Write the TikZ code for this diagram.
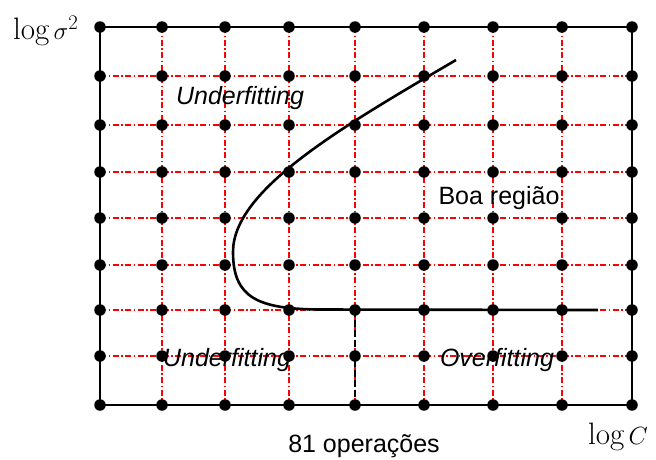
\documentclass[tikz,border=0pt]{standalone}
\usepackage{fontspec}
\newfontfamily\arialf{Liberation Sans}
\begin{document}
\begin{tikzpicture}[x=1pt,y=-1pt,
  gridline/.style={red, line width=1.1pt, dash pattern=on 6pt off 2.5pt on 1.5pt off 2.5pt},
  frame/.style={black, line width=2.7pt, line join=round},
  curveline/.style={black, line width=2.6pt},
  cutline/.style={black, line width=2.8pt, dash pattern=on 7pt off 3pt},
  dot/.style={circle, fill=black, inner sep=0pt, minimum size=11.5pt},
  lbl/.style={font=\arialf\fontsize{25}{30}\selectfont, inner sep=0pt, anchor=base},
  ilbl/.style={lbl, font=\arialf\itshape\fontsize{25}{30}\selectfont},
  mlbl/.style={font=\fontsize{31}{36}\selectfont, inner sep=0pt, anchor=base west}]
\useasboundingbox (0,0) rectangle (656,459);
\foreach \x [count=\i] in {100,162,225,289,355,424,493,562,632}
  \foreach \y [count=\j] in {27,76,125,172,218,265,310,356,405}
    \coordinate (p-\i-\j) at (\x,\y);
% red dash-dot grid
\foreach \i in {2,...,8} \draw[gridline] (p-\i-1) -- (p-\i-9);
\foreach \j in {2,...,8} \draw[gridline] (p-1-\j) -- (p-9-\j);
% frame
\draw[frame] (p-1-1) rectangle (p-9-9);
% boundary curve
\coordinate (cs) at (456,60);
\coordinate (cm) at (233,252);
\coordinate (ck) at (320,309.5);
\coordinate (ce) at (598,310);
\draw[curveline] (cs) .. controls (340,128) and (233,190) .. (cm)
  .. controls (233,298) and (258,309) .. (ck) -- (ce);
% dashed cut
\draw[cutline] (p-5-7) -- (p-5-9);
% points
\foreach \i in {1,...,9}
  \foreach \j in {1,...,9}
    \node[dot] (d-\i-\j) at (p-\i-\j) {};
% labels
\node[ilbl] (uf1) at (240,104) {Underfitting};
\node[lbl] (boa) at (499,204) {Boa região};
\node[ilbl] (uf2) at (227,366) {Underfitting};
\node[ilbl] (of) at (497,366) {Overfitting};
\node[lbl] (ops) at (364,452) {81 operações};
\node[mlbl] (ly) at (13,39) {$\log\sigma^2$};
\node[mlbl] (lx) at (588,444) {$\log C$};
\end{tikzpicture}
\end{document}
